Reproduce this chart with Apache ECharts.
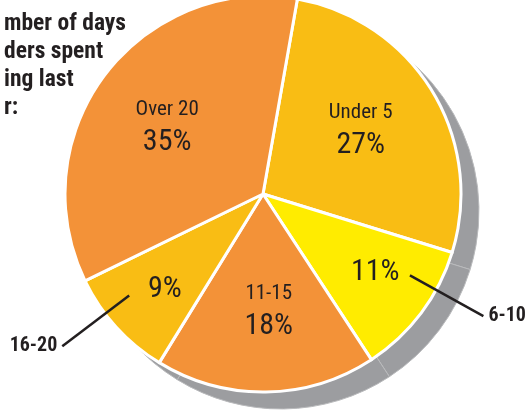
<!DOCTYPE html>
<html>
<head>
<meta charset="utf-8">
<script src="https://cdn.jsdelivr.net/npm/echarts@6/dist/echarts.min.js"></script>
<style>
  html, body { margin: 0; padding: 0; background: #fff; }
  #chart { width: 527px; height: 413px; }
</style>
</head>
<body>
<div id="chart"></div>
<script>
// days spent - share of readers (clockwise from top)
var categories = ["Under 5", "6-10", "11-15", "16-20", "Over 20"];
var shares = [27, 11, 18, 9, 35];
var sliceColors = ["#f9bd14", "#ffec00", "#f39238", "#f9bd14", "#f39238"];
// these two get their name outside with a leader line
var outsideNames = ["6-10", "16-20"];
var titleLines = ["mber of days", "ders spent", "ing last", "r:"];

var ink = "#231f20";
var font = "'Liberation Sans Narrow', 'Roboto Condensed', 'Liberation Sans', Arial, sans-serif";
var cx = 263, cy = 194, r = 198;

var myChart = echarts.init(document.getElementById("chart"));

function itemsFor(showFn) {
    var list = [];
    for (var i = 0; i < categories.length; i++) {
        var on = showFn(categories[i]);
        list.push({
            name: categories[i],
            value: shares[i],
            label: { show: on },
            labelLine: { show: on }
        });
    }
    return list;
}

var pieData = [];
for (var i = 0; i < categories.length; i++) {
    pieData.push({
        name: categories[i],
        value: shares[i],
        itemStyle: { color: sliceColors[i] }
    });
}

var rich = {
    n: { fontFamily: font, fontSize: 21, color: ink, lineHeight: 32 },
    p: { fontFamily: font, fontSize: 30, color: ink, lineHeight: 34 }
};

// invisible disc that only carries labels / leader lines
function leader(name, start) {
    return {
        type: "pie",
        silent: true,
        z: 4,
        center: [cx, cy],
        radius: 168,
        startAngle: start,
        itemStyle: { color: "rgba(0,0,0,0)" },
        label: {
            position: "outside",
            formatter: "{b}",
            overflow: "none",
            edgeDistance: 0,
            fontFamily: font,
            fontSize: 20,
            fontWeight: "bold",
            color: ink
        },
        labelLine: {
            length: 84,
            length2: 0,
            lineStyle: { color: ink, width: 2.5 }
        },
        data: itemsFor(function (n) { return n === name; })
    };
}

var option = {
    animation: false,
    title: {
        text: titleLines.join("\n"),
        left: -1,
        top: 5,
        textStyle: {
            fontFamily: font,
            fontWeight: "bold",
            fontSize: 23.5,
            lineHeight: 28,
            color: ink
        }
    },
    series: [
        {
            // grey side of the disc
            type: "pie",
            silent: true,
            center: [cx + 18, cy + 17],
            radius: r,
            startAngle: 80,
            label: { show: false },
            itemStyle: {
                color: "#9c9da0",
                borderColor: "#b9babc",
                borderWidth: 1
            },
            data: shares.slice()
        },
        {
            type: "pie",
            silent: true,
            center: [cx, cy],
            radius: r,
            startAngle: 80,
            label: { show: false },
            itemStyle: {
                borderColor: "#ffffff",
                borderWidth: 3
            },
            data: pieData
        },
        {
            type: "pie",
            silent: true,
            z: 3,
            center: [cx, cy],
            radius: 228,
            startAngle: 82,
            itemStyle: { color: "rgba(0,0,0,0)" },
            label: {
                position: "inside",
                formatter: "{n|{b}}\n{p|{c}%}",
                rich: rich
            },
            data: itemsFor(function (n) { return outsideNames.indexOf(n) < 0; })
        },
        {
            type: "pie",
            silent: true,
            z: 3,
            center: [cx, cy],
            radius: 268,
            startAngle: 82,
            itemStyle: { color: "rgba(0,0,0,0)" },
            label: {
                position: "inside",
                formatter: "{p|{c}%}",
                rich: rich
            },
            data: itemsFor(function (n) { return outsideNames.indexOf(n) >= 0; })
        },
        leader("6-10", 88),
        leader("16-20", 75)
    ]
};

myChart.setOption(option);
</script>
</body>
</html>
